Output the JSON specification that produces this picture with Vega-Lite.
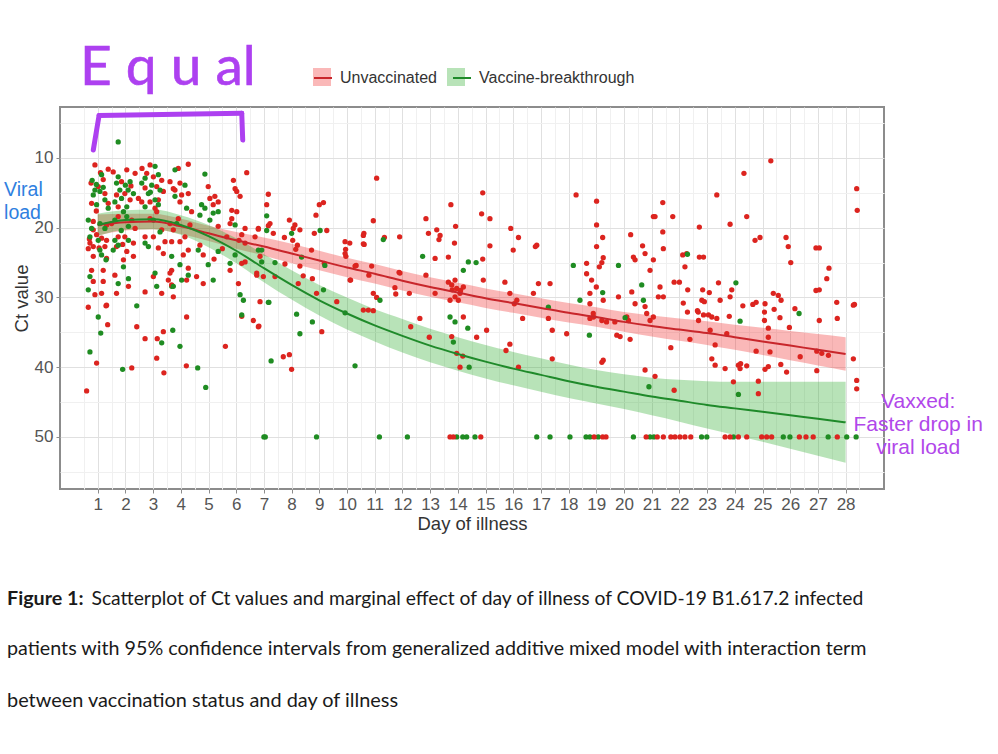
{
  "$schema": "https://vega.github.io/schema/vega-lite/v6.json",
  "width": 824,
  "height": 382,
  "autosize": {"type": "none"},
  "padding": {"left": 60, "top": 107, "right": 114, "bottom": 265},
  "background": "white",
  "config": {
    "view": {"stroke": "#8c8c8c", "strokeWidth": 2},
    "font": "Liberation Sans"
  },
  "datasets": {
    "fit": [
      {"status":"Unvaccinated","day":1,"fit":19.6,"lo":18.1,"hi":21.1},
      {"status":"Unvaccinated","day":2,"fit":19.2,"lo":18.0,"hi":20.4},
      {"status":"Unvaccinated","day":3,"fit":19.1,"lo":18.0,"hi":20.2},
      {"status":"Unvaccinated","day":4,"fit":19.8,"lo":18.7,"hi":20.9},
      {"status":"Unvaccinated","day":5,"fit":20.8,"lo":19.7,"hi":21.9},
      {"status":"Unvaccinated","day":6,"fit":21.8,"lo":20.6,"hi":23.0},
      {"status":"Unvaccinated","day":7,"fit":22.7,"lo":21.4,"hi":24.0},
      {"status":"Unvaccinated","day":8,"fit":23.7,"lo":22.3,"hi":25.1},
      {"status":"Unvaccinated","day":9,"fit":24.7,"lo":23.3,"hi":26.1},
      {"status":"Unvaccinated","day":10,"fit":25.7,"lo":24.3,"hi":27.1},
      {"status":"Unvaccinated","day":11,"fit":26.6,"lo":25.2,"hi":28.0},
      {"status":"Unvaccinated","day":12,"fit":27.6,"lo":26.2,"hi":29.0},
      {"status":"Unvaccinated","day":13,"fit":28.5,"lo":27.1,"hi":29.9},
      {"status":"Unvaccinated","day":14,"fit":29.3,"lo":27.9,"hi":30.7},
      {"status":"Unvaccinated","day":15,"fit":30.1,"lo":28.7,"hi":31.5},
      {"status":"Unvaccinated","day":16,"fit":30.8,"lo":29.4,"hi":32.2},
      {"status":"Unvaccinated","day":17,"fit":31.5,"lo":30.1,"hi":32.9},
      {"status":"Unvaccinated","day":18,"fit":32.2,"lo":30.8,"hi":33.6},
      {"status":"Unvaccinated","day":19,"fit":32.8,"lo":31.4,"hi":34.2},
      {"status":"Unvaccinated","day":20,"fit":33.5,"lo":32.1,"hi":34.9},
      {"status":"Unvaccinated","day":21,"fit":34.1,"lo":32.6,"hi":35.6},
      {"status":"Unvaccinated","day":22,"fit":34.6,"lo":33.0,"hi":36.2},
      {"status":"Unvaccinated","day":23,"fit":35.1,"lo":33.4,"hi":36.8},
      {"status":"Unvaccinated","day":24,"fit":35.7,"lo":33.9,"hi":37.5},
      {"status":"Unvaccinated","day":25,"fit":36.3,"lo":34.35,"hi":38.25},
      {"status":"Unvaccinated","day":26,"fit":36.9,"lo":34.8,"hi":39.0},
      {"status":"Unvaccinated","day":27,"fit":37.5,"lo":35.25,"hi":39.75},
      {"status":"Unvaccinated","day":28,"fit":38.1,"lo":35.7,"hi":40.5},
      {"status":"Vaccine-breakthrough","day":1,"fit":19.6,"lo":18.0,"hi":21.2},
      {"status":"Vaccine-breakthrough","day":2,"fit":18.9,"lo":17.5,"hi":20.3},
      {"status":"Vaccine-breakthrough","day":3,"fit":18.8,"lo":17.4,"hi":20.2},
      {"status":"Vaccine-breakthrough","day":4,"fit":19.6,"lo":18.2,"hi":21.0},
      {"status":"Vaccine-breakthrough","day":5,"fit":21.2,"lo":19.6,"hi":22.8},
      {"status":"Vaccine-breakthrough","day":6,"fit":23.3,"lo":21.5,"hi":25.1},
      {"status":"Vaccine-breakthrough","day":7,"fit":25.8,"lo":23.8,"hi":27.8},
      {"status":"Vaccine-breakthrough","day":8,"fit":28.2,"lo":26.1,"hi":30.3},
      {"status":"Vaccine-breakthrough","day":9,"fit":30.4,"lo":28.2,"hi":32.6},
      {"status":"Vaccine-breakthrough","day":10,"fit":32.3,"lo":30.0,"hi":34.6},
      {"status":"Vaccine-breakthrough","day":11,"fit":34.0,"lo":31.7,"hi":36.3},
      {"status":"Vaccine-breakthrough","day":12,"fit":35.5,"lo":33.1,"hi":37.9},
      {"status":"Vaccine-breakthrough","day":13,"fit":36.9,"lo":34.5,"hi":39.3},
      {"status":"Vaccine-breakthrough","day":14,"fit":38.1,"lo":35.7,"hi":40.5},
      {"status":"Vaccine-breakthrough","day":15,"fit":39.2,"lo":36.8,"hi":41.6},
      {"status":"Vaccine-breakthrough","day":16,"fit":40.2,"lo":37.8,"hi":42.6},
      {"status":"Vaccine-breakthrough","day":17,"fit":41.1,"lo":38.7,"hi":43.5},
      {"status":"Vaccine-breakthrough","day":18,"fit":42.0,"lo":39.6,"hi":44.4},
      {"status":"Vaccine-breakthrough","day":19,"fit":42.8,"lo":40.4,"hi":45.2},
      {"status":"Vaccine-breakthrough","day":20,"fit":43.5,"lo":41.0,"hi":46.0},
      {"status":"Vaccine-breakthrough","day":21,"fit":44.2,"lo":41.5,"hi":46.9},
      {"status":"Vaccine-breakthrough","day":22,"fit":44.8,"lo":41.8,"hi":47.8},
      {"status":"Vaccine-breakthrough","day":23,"fit":45.4,"lo":42.0,"hi":48.8},
      {"status":"Vaccine-breakthrough","day":24,"fit":45.9,"lo":42.1,"hi":49.7},
      {"status":"Vaccine-breakthrough","day":25,"fit":46.4,"lo":42.1,"hi":50.7},
      {"status":"Vaccine-breakthrough","day":26,"fit":46.9,"lo":42.1,"hi":51.7},
      {"status":"Vaccine-breakthrough","day":27,"fit":47.4,"lo":42.1,"hi":52.7},
      {"status":"Vaccine-breakthrough","day":28,"fit":47.9,"lo":42.1,"hi":53.7}
    ],
    "pts": [
      {"day":0.90,"ct":11.0,"status":"U"},{"day":1.38,"ct":11.6,"status":"U"},{"day":0.76,"ct":13.6,"status":"U"},{"day":1.20,"ct":13.1,"status":"U"},{"day":1.02,"ct":14.1,"status":"U"},{"day":1.26,"ct":15.1,"status":"U"},{"day":0.78,"ct":16.5,"status":"U"},{"day":1.38,"ct":16.5,"status":"U"},{"day":0.84,"ct":19.1,"status":"U"},{"day":1.32,"ct":19.6,"status":"U"},{"day":0.84,"ct":20.3,"status":"U"},{"day":0.96,"ct":21.0,"status":"U"},{"day":1.14,"ct":21.5,"status":"U"},{"day":0.72,"ct":22.2,"status":"U"},{"day":0.84,"ct":22.7,"status":"U"},{"day":1.32,"ct":21.8,"status":"U"},{"day":1.26,"ct":22.7,"status":"U"},{"day":0.84,"ct":24.1,"status":"U"},{"day":1.32,"ct":24.4,"status":"U"},{"day":1.20,"ct":26.1,"status":"U"},{"day":0.78,"ct":26.1,"status":"U"},{"day":0.84,"ct":27.7,"status":"U"},{"day":1.20,"ct":27.7,"status":"U"},{"day":0.90,"ct":29.6,"status":"U"},{"day":1.14,"ct":29.4,"status":"U"},{"day":1.32,"ct":31.1,"status":"U"},{"day":0.66,"ct":31.4,"status":"U"},{"day":1.30,"ct":31.2,"status":"U"},{"day":1.36,"ct":33.9,"status":"U"},{"day":0.96,"ct":39.4,"status":"U"},{"day":0.60,"ct":43.4,"status":"U"},{"day":0.70,"ct":21.6,"status":"U"},{"day":1.05,"ct":22.9,"status":"U"},{"day":0.66,"ct":23.0,"status":"U"},{"day":1.10,"ct":12.1,"status":"U"},{"day":0.95,"ct":17.6,"status":"U"},
      {"day":1.74,"ct":7.7,"status":"V"},{"day":1.14,"ct":12.4,"status":"V"},{"day":0.90,"ct":14.6,"status":"V"},{"day":1.08,"ct":14.8,"status":"V"},{"day":0.84,"ct":15.3,"status":"V"},{"day":1.26,"ct":16.0,"status":"V"},{"day":0.96,"ct":16.7,"status":"V"},{"day":1.38,"ct":17.2,"status":"V"},{"day":0.66,"ct":18.9,"status":"V"},{"day":1.08,"ct":19.4,"status":"V"},{"day":0.78,"ct":20.1,"status":"V"},{"day":1.26,"ct":20.1,"status":"V"},{"day":0.72,"ct":21.3,"status":"V"},{"day":1.02,"ct":21.8,"status":"V"},{"day":1.08,"ct":23.2,"status":"V"},{"day":1.14,"ct":23.9,"status":"V"},{"day":0.72,"ct":27.0,"status":"V"},{"day":0.66,"ct":28.9,"status":"V"},{"day":1.02,"ct":32.8,"status":"V"},{"day":1.11,"ct":35.1,"status":"V"},{"day":0.72,"ct":37.8,"status":"V"},{"day":0.95,"ct":13.8,"status":"V"},{"day":1.20,"ct":14.2,"status":"V"},{"day":0.80,"ct":13.2,"status":"V"},{"day":1.30,"ct":24.6,"status":"V"},
      {"day":1.56,"ct":12.0,"status":"U"},{"day":2.05,"ct":11.7,"status":"U"},{"day":2.35,"ct":12.2,"status":"U"},{"day":1.86,"ct":13.4,"status":"U"},{"day":1.98,"ct":15.1,"status":"U"},{"day":1.68,"ct":15.3,"status":"U"},{"day":2.17,"ct":16.0,"status":"U"},{"day":2.47,"ct":15.8,"status":"U"},{"day":1.74,"ct":17.0,"status":"U"},{"day":1.74,"ct":18.4,"status":"U"},{"day":2.23,"ct":18.9,"status":"U"},{"day":1.50,"ct":19.4,"status":"U"},{"day":2.35,"ct":20.1,"status":"U"},{"day":1.74,"ct":21.3,"status":"U"},{"day":1.98,"ct":21.3,"status":"U"},{"day":1.68,"ct":22.7,"status":"U"},{"day":2.29,"ct":22.2,"status":"U"},{"day":2.05,"ct":23.4,"status":"U"},{"day":1.93,"ct":24.6,"status":"U"},{"day":2.29,"ct":24.1,"status":"U"},{"day":1.62,"ct":26.8,"status":"U"},{"day":2.11,"ct":28.4,"status":"U"},{"day":1.68,"ct":29.4,"status":"U"},{"day":2.41,"ct":34.2,"status":"U"},{"day":2.23,"ct":40.1,"status":"U"},{"day":2.71,"ct":35.9,"status":"U"},{"day":2.20,"ct":14.0,"status":"U"},{"day":1.90,"ct":22.4,"status":"U"},
      {"day":1.74,"ct":12.7,"status":"V"},{"day":1.68,"ct":13.6,"status":"V"},{"day":2.17,"ct":13.4,"status":"V"},{"day":1.80,"ct":14.6,"status":"V"},{"day":2.10,"ct":14.6,"status":"V"},{"day":2.29,"ct":15.1,"status":"V"},{"day":1.86,"ct":15.8,"status":"V"},{"day":1.62,"ct":16.3,"status":"V"},{"day":2.05,"ct":17.0,"status":"V"},{"day":1.93,"ct":17.7,"status":"V"},{"day":2.05,"ct":18.4,"status":"V"},{"day":1.62,"ct":18.9,"status":"V"},{"day":2.11,"ct":19.8,"status":"V"},{"day":1.62,"ct":21.8,"status":"V"},{"day":2.11,"ct":21.8,"status":"V"},{"day":1.74,"ct":22.5,"status":"V"},{"day":1.56,"ct":23.2,"status":"V"},{"day":1.93,"ct":25.6,"status":"V"},{"day":1.74,"ct":28.0,"status":"V"},{"day":2.11,"ct":27.3,"status":"V"},{"day":2.41,"ct":31.2,"status":"V"},{"day":1.90,"ct":40.3,"status":"V"},{"day":2.00,"ct":13.9,"status":"V"},{"day":1.85,"ct":20.4,"status":"V"},
      {"day":2.89,"ct":11.0,"status":"U"},{"day":2.77,"ct":12.2,"status":"U"},{"day":3.01,"ct":12.7,"status":"U"},{"day":3.31,"ct":13.2,"status":"U"},{"day":2.71,"ct":14.3,"status":"U"},{"day":3.13,"ct":14.1,"status":"U"},{"day":3.37,"ct":14.8,"status":"U"},{"day":2.59,"ct":16.3,"status":"U"},{"day":2.89,"ct":16.3,"status":"U"},{"day":3.19,"ct":16.0,"status":"U"},{"day":3.07,"ct":17.2,"status":"U"},{"day":3.13,"ct":17.7,"status":"U"},{"day":3.73,"ct":14.4,"status":"U"},{"day":3.61,"ct":19.4,"status":"U"},{"day":2.89,"ct":18.7,"status":"U"},{"day":3.31,"ct":20.3,"status":"U"},{"day":3.01,"ct":21.3,"status":"U"},{"day":2.71,"ct":21.3,"status":"U"},{"day":3.19,"ct":22.9,"status":"U"},{"day":3.37,"ct":23.7,"status":"U"},{"day":3.43,"ct":22.0,"status":"U"},{"day":3.67,"ct":26.1,"status":"U"},{"day":2.71,"ct":29.2,"status":"U"},{"day":3.31,"ct":29.4,"status":"U"},{"day":3.01,"ct":27.0,"status":"U"},{"day":3.55,"ct":27.5,"status":"U"},{"day":3.73,"ct":29.9,"status":"U"},{"day":3.15,"ct":35.9,"status":"U"},{"day":3.37,"ct":34.9,"status":"U"},{"day":3.13,"ct":38.7,"status":"U"},{"day":3.39,"ct":40.8,"status":"U"},{"day":2.60,"ct":11.5,"status":"U"},
      {"day":3.07,"ct":11.2,"status":"V"},{"day":2.71,"ct":12.9,"status":"V"},{"day":3.19,"ct":12.4,"status":"V"},{"day":2.59,"ct":13.6,"status":"V"},{"day":2.95,"ct":13.9,"status":"V"},{"day":3.25,"ct":14.6,"status":"V"},{"day":2.83,"ct":15.1,"status":"V"},{"day":3.07,"ct":16.0,"status":"V"},{"day":2.71,"ct":17.0,"status":"V"},{"day":3.19,"ct":16.7,"status":"V"},{"day":3.01,"ct":18.9,"status":"V"},{"day":3.25,"ct":20.6,"status":"V"},{"day":2.71,"ct":22.2,"status":"V"},{"day":2.83,"ct":22.7,"status":"V"},{"day":3.07,"ct":26.5,"status":"V"},{"day":3.13,"ct":28.4,"status":"V"},{"day":3.67,"ct":28.4,"status":"V"},{"day":3.31,"ct":36.5,"status":"V"},{"day":3.71,"ct":34.7,"status":"V"},{"day":2.90,"ct":14.9,"status":"V"},
      {"day":4.27,"ct":10.9,"status":"U"},{"day":3.91,"ct":11.5,"status":"U"},{"day":3.61,"ct":13.4,"status":"U"},{"day":3.97,"ct":13.6,"status":"U"},{"day":3.79,"ct":14.6,"status":"U"},{"day":4.03,"ct":15.3,"status":"U"},{"day":4.27,"ct":15.1,"status":"U"},{"day":3.97,"ct":16.3,"status":"U"},{"day":4.39,"ct":17.7,"status":"U"},{"day":3.91,"ct":18.7,"status":"U"},{"day":3.73,"ct":20.3,"status":"U"},{"day":4.33,"ct":19.6,"status":"U"},{"day":4.15,"ct":21.3,"status":"U"},{"day":3.97,"ct":22.0,"status":"U"},{"day":3.67,"ct":22.0,"status":"U"},{"day":4.69,"ct":22.5,"status":"U"},{"day":4.09,"ct":23.9,"status":"U"},{"day":4.27,"ct":23.2,"status":"U"},{"day":4.81,"ct":23.9,"status":"U"},{"day":4.27,"ct":25.8,"status":"U"},{"day":3.61,"ct":26.5,"status":"U"},{"day":4.57,"ct":27.0,"status":"U"},{"day":4.21,"ct":27.5,"status":"U"},{"day":4.81,"ct":28.0,"status":"U"},{"day":3.67,"ct":28.2,"status":"U"},{"day":4.21,"ct":32.8,"status":"U"},{"day":4.20,"ct":39.8,"status":"U"},
      {"day":3.79,"ct":11.7,"status":"V"},{"day":4.87,"ct":12.3,"status":"V"},{"day":4.15,"ct":13.9,"status":"V"},{"day":3.79,"ct":15.5,"status":"V"},{"day":4.75,"ct":16.7,"status":"V"},{"day":4.87,"ct":17.2,"status":"V"},{"day":4.21,"ct":17.2,"status":"V"},{"day":4.69,"ct":18.2,"status":"V"},{"day":3.85,"ct":19.4,"status":"V"},{"day":4.63,"ct":23.2,"status":"V"},{"day":3.67,"ct":24.1,"status":"V"},{"day":3.97,"ct":25.3,"status":"V"},{"day":4.27,"ct":26.8,"status":"V"},{"day":4.03,"ct":27.5,"status":"V"},{"day":3.73,"ct":28.4,"status":"V"},{"day":3.97,"ct":37.0,"status":"V"},{"day":4.61,"ct":40.1,"status":"V"},{"day":4.90,"ct":42.9,"status":"V"},
      {"day":4.99,"ct":14.1,"status":"U"},{"day":5.05,"ct":15.8,"status":"U"},{"day":5.23,"ct":15.5,"status":"U"},{"day":5.35,"ct":16.3,"status":"U"},{"day":5.17,"ct":16.7,"status":"U"},{"day":5.35,"ct":19.8,"status":"U"},{"day":5.66,"ct":21.3,"status":"U"},{"day":5.78,"ct":26.1,"status":"U"},{"day":5.61,"ct":37.0,"status":"U"},{"day":5.20,"ct":24.5,"status":"U"},{"day":5.50,"ct":23.0,"status":"U"},
      {"day":5.35,"ct":17.7,"status":"V"},{"day":5.17,"ct":17.9,"status":"V"},{"day":5.05,"ct":18.9,"status":"V"},{"day":5.35,"ct":23.4,"status":"V"},{"day":4.99,"ct":25.3,"status":"V"},{"day":5.17,"ct":27.5,"status":"V"},
      {"day":6.38,"ct":12.1,"status":"U"},{"day":5.90,"ct":13.2,"status":"U"},{"day":5.96,"ct":14.4,"status":"U"},{"day":6.02,"ct":14.8,"status":"U"},{"day":6.14,"ct":15.5,"status":"U"},{"day":5.84,"ct":17.5,"status":"U"},{"day":6.02,"ct":17.7,"status":"U"},{"day":5.84,"ct":18.7,"status":"U"},{"day":5.78,"ct":19.4,"status":"U"},{"day":6.32,"ct":20.1,"status":"U"},{"day":6.80,"ct":20.1,"status":"U"},{"day":6.20,"ct":21.0,"status":"U"},{"day":6.68,"ct":21.3,"status":"U"},{"day":6.32,"ct":22.2,"status":"U"},{"day":6.32,"ct":24.9,"status":"U"},{"day":6.20,"ct":25.1,"status":"U"},{"day":6.74,"ct":26.5,"status":"U"},{"day":6.98,"ct":27.0,"status":"U"},{"day":6.08,"ct":28.0,"status":"U"},{"day":6.86,"ct":30.6,"status":"U"},{"day":6.20,"ct":32.7,"status":"U"},{"day":6.62,"ct":33.3,"status":"U"},{"day":6.82,"ct":34.1,"status":"U"},{"day":6.10,"ct":21.8,"status":"U"},
      {"day":5.96,"ct":19.6,"status":"V"},{"day":6.92,"ct":23.2,"status":"V"},{"day":5.96,"ct":23.9,"status":"V"},{"day":5.78,"ct":25.1,"status":"V"},{"day":6.14,"ct":29.6,"status":"V"},{"day":6.26,"ct":30.4,"status":"V"},{"day":6.20,"ct":32.5,"status":"V"},{"day":7.18,"ct":30.7,"status":"V"},
      {"day":7.16,"ct":15.2,"status":"U"},{"day":7.10,"ct":16.7,"status":"U"},{"day":7.22,"ct":19.4,"status":"U"},{"day":7.16,"ct":19.7,"status":"U"},{"day":7.34,"ct":20.8,"status":"U"},{"day":6.80,"ct":20.2,"status":"U"},{"day":6.86,"ct":24.1,"status":"U"},{"day":6.74,"ct":26.8,"status":"U"},{"day":7.40,"ct":27.0,"status":"U"},{"day":7.76,"ct":25.2,"status":"U"},{"day":6.80,"ct":34.2,"status":"U"},{"day":7.92,"ct":18.9,"status":"U"},{"day":8.12,"ct":19.6,"status":"U"},{"day":8.06,"ct":20.1,"status":"U"},{"day":8.30,"ct":20.3,"status":"U"},{"day":7.74,"ct":21.4,"status":"U"},{"day":8.04,"ct":21.8,"status":"U"},{"day":8.21,"ct":22.5,"status":"U"},{"day":8.15,"ct":23.1,"status":"U"},{"day":8.72,"ct":23.2,"status":"U"},{"day":8.30,"ct":25.5,"status":"U"},{"day":8.42,"ct":26.9,"status":"U"},{"day":8.24,"ct":28.0,"status":"U"},{"day":8.75,"ct":27.3,"status":"U"},{"day":8.90,"ct":29.4,"status":"U"},{"day":9.09,"ct":34.9,"status":"U"},{"day":7.70,"ct":38.5,"status":"U"},{"day":7.92,"ct":38.2,"status":"U"},{"day":8.00,"ct":40.3,"status":"U"},{"day":8.88,"ct":18.2,"status":"U"},{"day":9.00,"ct":16.7,"status":"U"},{"day":9.15,"ct":16.4,"status":"U"},{"day":9.27,"ct":20.4,"status":"U"},{"day":8.82,"ct":20.8,"status":"U"},{"day":9.18,"ct":25.1,"status":"U"},{"day":9.63,"ct":30.6,"status":"U"},
      {"day":7.10,"ct":18.3,"status":"V"},{"day":7.10,"ct":20.4,"status":"V"},{"day":6.80,"ct":23.2,"status":"V"},{"day":6.92,"ct":24.9,"status":"V"},{"day":7.40,"ct":25.0,"status":"V"},{"day":7.16,"ct":30.7,"status":"V"},{"day":8.00,"ct":20.8,"status":"V"},{"day":8.36,"ct":24.2,"status":"V"},{"day":9.15,"ct":28.9,"status":"V"},{"day":8.18,"ct":32.4,"status":"V"},{"day":8.75,"ct":33.5,"status":"V"},{"day":8.30,"ct":35.2,"status":"V"},{"day":7.26,"ct":39.1,"status":"V"},{"day":9.03,"ct":20.4,"status":"V"},{"day":9.20,"ct":25.4,"status":"V"},
      {"day":9.93,"ct":22.0,"status":"U"},{"day":10.10,"ct":22.2,"status":"U"},{"day":9.95,"ct":23.1,"status":"U"},{"day":9.96,"ct":24.1,"status":"U"},{"day":10.29,"ct":25.5,"status":"U"},{"day":10.13,"ct":27.5,"status":"U"},{"day":10.61,"ct":20.8,"status":"U"},{"day":10.62,"ct":22.4,"status":"U"},{"day":10.95,"ct":19.0,"status":"U"},{"day":11.35,"ct":21.4,"status":"U"},{"day":10.89,"ct":25.5,"status":"U"},{"day":10.79,"ct":26.8,"status":"U"},{"day":10.95,"ct":29.4,"status":"U"},{"day":11.07,"ct":30.0,"status":"U"},{"day":10.77,"ct":31.8,"status":"U"},{"day":10.95,"ct":31.9,"status":"U"},{"day":11.76,"ct":29.5,"status":"U"},{"day":11.88,"ct":26.4,"status":"U"},{"day":11.90,"ct":21.3,"status":"U"},{"day":11.07,"ct":12.9,"status":"U"},{"day":10.59,"ct":22.3,"status":"U"},{"day":10.59,"ct":21.1,"status":"U"},{"day":9.93,"ct":23.7,"status":"U"},{"day":10.33,"ct":25.4,"status":"U"},{"day":10.11,"ct":27.5,"status":"U"},{"day":10.59,"ct":31.8,"status":"U"},{"day":11.91,"ct":26.5,"status":"U"},{"day":12.25,"ct":29.4,"status":"U"},{"day":12.30,"ct":34.2,"status":"U"},{"day":11.73,"ct":28.6,"status":"U"},
      {"day":9.93,"ct":32.2,"status":"V"},{"day":10.29,"ct":39.8,"status":"V"},{"day":11.31,"ct":21.7,"status":"V"},{"day":11.19,"ct":30.4,"status":"V"},
      {"day":12.85,"ct":18.7,"status":"U"},{"day":13.75,"ct":16.7,"status":"U"},{"day":13.92,"ct":19.8,"status":"U"},{"day":14.90,"ct":15.0,"status":"U"},{"day":14.86,"ct":18.0,"status":"U"},{"day":15.16,"ct":18.7,"status":"U"},{"day":12.94,"ct":20.8,"status":"U"},{"day":13.24,"ct":20.3,"status":"U"},{"day":13.32,"ct":21.7,"status":"U"},{"day":13.36,"ct":21.1,"status":"U"},{"day":13.88,"ct":22.2,"status":"U"},{"day":13.66,"ct":24.2,"status":"U"},{"day":13.18,"ct":24.4,"status":"U"},{"day":12.85,"ct":26.8,"status":"U"},{"day":13.90,"ct":27.5,"status":"U"},{"day":13.66,"ct":27.8,"status":"U"},{"day":13.78,"ct":28.2,"status":"U"},{"day":13.96,"ct":28.7,"status":"U"},{"day":14.08,"ct":29.4,"status":"U"},{"day":14.20,"ct":28.5,"status":"U"},{"day":13.90,"ct":29.9,"status":"U"},{"day":13.72,"ct":30.4,"status":"U"},{"day":14.02,"ct":30.4,"status":"U"},{"day":14.20,"ct":32.8,"status":"U"},{"day":13.78,"ct":35.6,"status":"U"},{"day":13.96,"ct":38.0,"status":"U"},{"day":14.18,"ct":38.4,"status":"U"},{"day":14.08,"ct":40.0,"status":"U"},{"day":12.63,"ct":33.0,"status":"U"},{"day":12.97,"ct":35.7,"status":"U"},{"day":13.18,"ct":29.4,"status":"U"},{"day":14.90,"ct":24.5,"status":"U"},{"day":15.16,"ct":22.6,"status":"U"},{"day":14.92,"ct":27.5,"status":"U"},{"day":15.04,"ct":34.7,"status":"U"},{"day":14.68,"ct":35.7,"status":"U"},{"day":13.80,"ct":28.9,"status":"U"},{"day":14.10,"ct":29.0,"status":"U"},
      {"day":12.73,"ct":24.1,"status":"V"},{"day":14.66,"ct":25.0,"status":"V"},{"day":14.38,"ct":24.9,"status":"V"},{"day":14.20,"ct":26.1,"status":"V"},{"day":13.72,"ct":32.8,"status":"V"},{"day":13.90,"ct":33.5,"status":"V"},{"day":13.84,"ct":36.4,"status":"V"},{"day":14.36,"ct":34.4,"status":"V"},{"day":14.41,"ct":40.0,"status":"V"},
      {"day":15.91,"ct":20.1,"status":"U"},{"day":16.19,"ct":21.4,"status":"U"},{"day":16.00,"ct":23.2,"status":"U"},{"day":16.85,"ct":22.5,"status":"U"},{"day":16.80,"ct":22.7,"status":"U"},{"day":15.70,"ct":27.8,"status":"U"},{"day":15.88,"ct":29.4,"status":"U"},{"day":16.04,"ct":30.9,"status":"U"},{"day":16.13,"ct":30.4,"status":"U"},{"day":16.73,"ct":29.4,"status":"U"},{"day":16.91,"ct":28.0,"status":"U"},{"day":16.34,"ct":33.0,"status":"U"},{"day":15.88,"ct":36.7,"status":"U"},{"day":15.74,"ct":37.6,"status":"U"},{"day":16.19,"ct":40.0,"status":"U"},{"day":17.33,"ct":28.0,"status":"U"},{"day":17.27,"ct":33.0,"status":"U"},{"day":17.41,"ct":34.7,"status":"U"},{"day":17.41,"ct":38.8,"status":"U"},{"day":17.93,"ct":35.2,"status":"U"},{"day":18.27,"ct":15.3,"status":"U"},
      {"day":17.27,"ct":31.4,"status":"V"},{"day":18.17,"ct":25.4,"status":"V"},{"day":18.41,"ct":30.4,"status":"V"},{"day":18.75,"ct":35.4,"status":"V"},
      {"day":19.01,"ct":16.2,"status":"U"},{"day":19.01,"ct":19.6,"status":"U"},{"day":19.23,"ct":21.4,"status":"U"},{"day":19.01,"ct":22.7,"status":"U"},{"day":19.25,"ct":24.3,"status":"U"},{"day":19.20,"ct":25.0,"status":"U"},{"day":19.11,"ct":25.6,"status":"U"},{"day":18.65,"ct":25.1,"status":"U"},{"day":18.65,"ct":26.6,"status":"U"},{"day":18.83,"ct":27.5,"status":"U"},{"day":18.77,"ct":29.4,"status":"U"},{"day":19.25,"ct":30.4,"status":"U"},{"day":18.77,"ct":30.9,"status":"U"},{"day":18.89,"ct":32.3,"status":"U"},{"day":18.77,"ct":33.0,"status":"U"},{"day":19.20,"ct":33.3,"status":"U"},{"day":19.37,"ct":33.5,"status":"U"},{"day":19.25,"ct":39.0,"status":"U"},{"day":19.20,"ct":39.3,"status":"U"},{"day":18.90,"ct":32.8,"status":"U"},{"day":19.00,"ct":28.5,"status":"U"},
      {"day":19.23,"ct":29.3,"status":"V"},
      {"day":20.24,"ct":21.0,"status":"U"},{"day":20.67,"ct":22.6,"status":"U"},{"day":20.34,"ct":24.2,"status":"U"},{"day":20.40,"ct":24.6,"status":"U"},{"day":21.06,"ct":24.6,"status":"U"},{"day":21.06,"ct":18.4,"status":"U"},{"day":20.76,"ct":23.7,"status":"U"},{"day":20.94,"ct":26.1,"status":"U"},{"day":19.80,"ct":29.9,"status":"U"},{"day":20.28,"ct":29.2,"status":"U"},{"day":20.40,"ct":30.9,"status":"U"},{"day":20.76,"ct":31.3,"status":"U"},{"day":20.82,"ct":32.3,"status":"U"},{"day":20.94,"ct":33.3,"status":"U"},{"day":21.06,"ct":32.8,"status":"U"},{"day":20.10,"ct":32.8,"status":"U"},{"day":20.16,"ct":33.3,"status":"U"},{"day":19.67,"ct":33.5,"status":"U"},{"day":19.74,"ct":35.4,"status":"U"},{"day":19.86,"ct":35.6,"status":"U"},{"day":20.22,"ct":36.0,"status":"U"},{"day":20.76,"ct":40.4,"status":"U"},{"day":21.12,"ct":41.3,"status":"U"},
      {"day":19.80,"ct":25.4,"status":"V"},{"day":20.64,"ct":28.2,"status":"V"},{"day":20.70,"ct":30.4,"status":"V"},{"day":20.04,"ct":32.9,"status":"V"},{"day":20.90,"ct":42.8,"status":"V"},
      {"day":25.30,"ct":10.4,"status":"U"},{"day":24.33,"ct":12.2,"status":"U"},{"day":28.40,"ct":14.4,"status":"U"},{"day":28.42,"ct":17.5,"status":"U"},{"day":23.35,"ct":15.3,"status":"U"},{"day":24.43,"ct":18.4,"status":"U"},{"day":21.40,"ct":16.4,"status":"U"},{"day":21.12,"ct":18.4,"status":"U"},{"day":21.76,"ct":18.4,"status":"U"},{"day":21.40,"ct":20.6,"status":"U"},{"day":22.72,"ct":19.9,"status":"U"},{"day":23.83,"ct":19.5,"status":"U"},{"day":24.73,"ct":21.8,"status":"U"},{"day":24.91,"ct":21.4,"status":"U"},{"day":25.85,"ct":21.4,"status":"U"},{"day":25.93,"ct":22.7,"status":"U"},{"day":26.02,"ct":25.0,"status":"U"},{"day":26.93,"ct":22.9,"status":"U"},{"day":27.05,"ct":22.9,"status":"U"},{"day":27.40,"ct":25.8,"status":"U"},{"day":27.32,"ct":27.3,"status":"U"},{"day":26.93,"ct":29.0,"status":"U"},{"day":27.05,"ct":28.9,"status":"U"},{"day":27.68,"ct":30.7,"status":"U"},{"day":28.28,"ct":31.1,"status":"U"},{"day":28.32,"ct":31.0,"status":"U"},{"day":27.05,"ct":33.3,"status":"U"},{"day":27.70,"ct":33.0,"status":"U"},{"day":27.14,"ct":38.0,"status":"U"},{"day":27.38,"ct":38.3,"status":"U"},{"day":26.96,"ct":40.5,"status":"U"},{"day":28.28,"ct":38.8,"status":"U"},{"day":28.40,"ct":41.9,"status":"U"},{"day":28.40,"ct":43.1,"status":"U"},
      {"day":21.42,"ct":23.0,"status":"U"},{"day":22.12,"ct":23.9,"status":"U"},{"day":22.20,"ct":25.6,"status":"U"},{"day":22.26,"ct":23.7,"status":"U"},{"day":21.81,"ct":27.8,"status":"U"},{"day":22.00,"ct":27.8,"status":"U"},{"day":22.30,"ct":28.9,"status":"U"},{"day":21.30,"ct":28.5,"status":"U"},{"day":21.24,"ct":29.9,"status":"U"},{"day":21.42,"ct":29.9,"status":"U"},{"day":22.14,"ct":30.8,"status":"U"},{"day":22.29,"ct":32.1,"status":"U"},{"day":22.68,"ct":32.1,"status":"U"},{"day":22.72,"ct":24.2,"status":"U"},{"day":22.87,"ct":24.2,"status":"U"},{"day":22.84,"ct":28.9,"status":"U"},{"day":22.81,"ct":30.4,"status":"U"},{"day":22.90,"ct":30.6,"status":"U"},{"day":23.41,"ct":27.9,"status":"U"},{"day":23.47,"ct":30.4,"status":"U"},{"day":23.08,"ct":29.3,"status":"U"},{"day":22.65,"ct":31.9,"status":"U"},{"day":22.69,"ct":33.3,"status":"U"},{"day":22.87,"ct":32.5,"status":"U"},{"day":23.05,"ct":32.5,"status":"U"},{"day":23.17,"ct":32.8,"status":"U"},{"day":23.35,"ct":33.0,"status":"U"},{"day":23.80,"ct":32.7,"status":"U"},{"day":23.89,"ct":28.9,"status":"U"},{"day":23.83,"ct":29.9,"status":"U"},{"day":24.29,"ct":31.2,"status":"U"},{"day":24.65,"ct":31.0,"status":"U"},{"day":24.77,"ct":30.7,"status":"U"},{"day":25.09,"ct":30.9,"status":"U"},{"day":25.07,"ct":32.1,"status":"U"},{"day":25.07,"ct":33.3,"status":"U"},{"day":25.39,"ct":29.4,"status":"U"},{"day":25.57,"ct":29.7,"status":"U"},{"day":25.67,"ct":30.4,"status":"U"},{"day":25.42,"ct":31.7,"status":"U"},{"day":26.17,"ct":31.6,"status":"U"},{"day":25.63,"ct":32.9,"status":"U"},{"day":25.97,"ct":34.3,"status":"U"},{"day":25.21,"ct":34.4,"status":"U"},{"day":25.21,"ct":35.7,"status":"U"},{"day":23.11,"ct":34.7,"status":"U"},{"day":23.29,"ct":36.8,"status":"U"},{"day":23.71,"ct":35.2,"status":"U"},{"day":23.17,"ct":38.8,"status":"U"},{"day":23.29,"ct":39.7,"status":"U"},{"day":23.65,"ct":40.2,"status":"U"},{"day":23.95,"ct":42.1,"status":"U"},{"day":24.13,"ct":39.7,"status":"U"},{"day":24.21,"ct":39.5,"status":"U"},{"day":24.43,"ct":39.8,"status":"U"},{"day":24.19,"ct":40.2,"status":"U"},{"day":24.85,"ct":43.8,"status":"U"},{"day":24.85,"ct":42.0,"status":"U"},{"day":25.09,"ct":40.3,"status":"U"},{"day":25.21,"ct":39.9,"status":"U"},{"day":24.77,"ct":37.7,"status":"U"},{"day":25.27,"ct":37.8,"status":"U"},{"day":25.66,"ct":39.6,"status":"U"},{"day":25.87,"ct":40.7,"status":"U"},{"day":26.36,"ct":38.5,"status":"U"},{"day":26.96,"ct":37.7,"status":"U"},{"day":21.69,"ct":37.2,"status":"U"},{"day":21.81,"ct":43.3,"status":"U"},{"day":22.38,"ct":36.0,"status":"U"},
      {"day":22.29,"ct":23.8,"status":"V"},{"day":24.04,"ct":27.9,"status":"V"},{"day":24.19,"ct":33.4,"status":"V"},{"day":26.32,"ct":32.3,"status":"V"},{"day":24.13,"ct":43.9,"status":"V"},
      {"day":7.00,"ct":50,"status":"V"},{"day":7.05,"ct":50,"status":"V"},{"day":8.90,"ct":50,"status":"V"},{"day":11.17,"ct":50,"status":"V"},{"day":12.18,"ct":50,"status":"V"},{"day":13.96,"ct":50,"status":"V"},{"day":14.18,"ct":50,"status":"V"},{"day":14.32,"ct":50,"status":"V"},{"day":14.62,"ct":50,"status":"V"},{"day":16.85,"ct":50,"status":"V"},{"day":17.33,"ct":50,"status":"V"},{"day":18.05,"ct":50,"status":"V"},{"day":18.63,"ct":50,"status":"V"},{"day":18.77,"ct":50,"status":"V"},{"day":19.07,"ct":50,"status":"V"},{"day":20.34,"ct":50,"status":"V"},{"day":20.94,"ct":50,"status":"V"},{"day":21.08,"ct":50,"status":"V"},{"day":22.80,"ct":50,"status":"V"},{"day":22.99,"ct":50,"status":"V"},{"day":23.95,"ct":50,"status":"V"},{"day":25.75,"ct":50,"status":"V"},{"day":25.99,"ct":50,"status":"V"},{"day":27.37,"ct":50,"status":"V"},{"day":28.04,"ct":50,"status":"V"},{"day":28.38,"ct":50,"status":"V"},
      {"day":13.72,"ct":50,"status":"U"},{"day":13.84,"ct":50,"status":"U"},{"day":14.83,"ct":50,"status":"U"},{"day":18.92,"ct":50,"status":"U"},{"day":19.23,"ct":50,"status":"U"},{"day":19.35,"ct":50,"status":"U"},{"day":20.80,"ct":50,"status":"U"},{"day":21.20,"ct":50,"status":"U"},{"day":21.42,"ct":50,"status":"U"},{"day":21.69,"ct":50,"status":"U"},{"day":21.84,"ct":50,"status":"U"},{"day":22.02,"ct":50,"status":"U"},{"day":22.20,"ct":50,"status":"U"},{"day":22.41,"ct":50,"status":"U"},{"day":23.65,"ct":50,"status":"U"},{"day":23.83,"ct":50,"status":"U"},{"day":24.13,"ct":50,"status":"U"},{"day":24.43,"ct":50,"status":"U"},{"day":24.97,"ct":50,"status":"U"},{"day":25.15,"ct":50,"status":"U"},{"day":25.33,"ct":50,"status":"U"},{"day":26.33,"ct":50,"status":"U"},{"day":26.57,"ct":50,"status":"U"},{"day":26.83,"ct":50,"status":"U"},{"day":27.70,"ct":50,"status":"U"}
    ]
  },
  "layer": [
    {
      "data": {"name": "fit"},
      "mark": {"type": "area", "interpolate": "monotone", "fillOpacity": 0.33},
      "encoding": {
        "x": {
          "field": "day", "type": "quantitative",
          "scale": {"domain": [-0.361, 29.386], "nice": false, "zero": false},
          "axis": {
            "orient": "bottom",
            "values": [1,2,3,4,5,6,7,8,9,10,11,12,13,14,15,16,17,18,19,20,21,22,23,24,25,26,27,28],
            "labelOverlap": false, "labelFlush": false,
            "grid": true, "gridColor": "#e0e0e0", "gridWidth": 1,
            "tickColor": "#8c8c8c", "tickSize": 4, "tickWidth": 1,
            "domain": false,
            "labelFont": "Liberation Sans", "labelFontSize": 17, "labelColor": "#555555", "labelPadding": 3,
            "title": "Day of illness", "titleFont": "Liberation Sans", "titleFontSize": 18.5, "titleFontWeight": "normal", "titleColor": "#333333", "titlePadding": 2
          }
        },
        "y": {
          "field": "lo", "type": "quantitative",
          "scale": {"domain": [2.69, 57.46], "reverse": true, "nice": false, "zero": false},
          "axis": {
            "orient": "left",
            "values": [10,20,30,40,50],
            "labelOverlap": false, "labelFlush": false,
            "grid": true, "gridColor": "#e0e0e0", "gridWidth": 1,
            "tickColor": "#8c8c8c", "tickSize": 4, "tickWidth": 1,
            "domain": false,
            "labelFont": "Liberation Sans", "labelFontSize": 17, "labelColor": "#555555", "labelPadding": 3,
            "title": "Ct value", "titleFont": "Liberation Sans", "titleFontSize": 18.5, "titleFontWeight": "normal", "titleColor": "#333333", "titlePadding": 3
          }
        },
        "y2": {"field": "hi"},
        "fill": {
          "field": "status", "type": "nominal",
          "scale": {"range": ["#f02828", "#28aa28"]},
          "legend": {
            "orient": "none", "legendX": 253, "legendY": -39, "direction": "horizontal", "title": null,
            "symbolType": "square", "symbolSize": 324, "symbolOpacity": 0.33, "symbolStrokeWidth": 0,
            "labelExpr": "''", "labelFontSize": 16, "labelOffset": 0, "columnPadding": 116, "padding": 0
          }
        }
      }
    },
    {
      "data": {"name": "pts"},
      "mark": {"type": "circle", "size": 28, "opacity": 1},
      "encoding": {
        "x": {
          "field": "day", "type": "quantitative",
          "axis": {
            "orient": "top",
            "values": [0.5,1.5,2.5,3.5,4.5,5.5,6.5,7.5,8.5,9.5,10.5,11.5,12.5,13.5,14.5,15.5,16.5,17.5,18.5,19.5,20.5,21.5,22.5,23.5,24.5,25.5,26.5,27.5,28.5],
            "grid": true, "gridColor": "#f0f0f0", "gridWidth": 1,
            "labels": false, "ticks": false, "domain": false, "title": null
          }
        },
        "y": {
          "field": "ct", "type": "quantitative",
          "axis": {
            "orient": "right",
            "values": [5,15,25,35,45,55],
            "grid": true, "gridColor": "#f0f0f0", "gridWidth": 1,
            "labels": false, "ticks": false, "domain": false, "title": null
          }
        },
        "color": {
          "field": "status", "type": "nominal",
          "scale": {"domain": ["U", "V"], "range": ["#dc241f", "#1f8c22"]},
          "legend": null
        }
      }
    },
    {
      "data": {"name": "fit"},
      "mark": {"type": "line", "interpolate": "monotone", "strokeWidth": 2},
      "encoding": {
        "x": {"field": "day", "type": "quantitative", "axis": null},
        "y": {"field": "fit", "type": "quantitative", "axis": null},
        "stroke": {
          "field": "status", "type": "nominal",
          "scale": {"domain": ["Unvaccinated", "Vaccine-breakthrough"], "range": ["#c8262b", "#1f8a2a"]},
          "legend": {
            "orient": "none", "legendX": 253, "legendY": -39, "direction": "horizontal", "title": null,
            "symbolType": "stroke", "symbolSize": 324, "symbolStrokeWidth": 2,
            "labelFont": "Liberation Sans", "labelFontSize": 16, "labelColor": "#333333",
            "labelOffset": 7, "columnPadding": 12, "padding": 0
          }
        }
      }
    },
    {
      "data": {"values": [{}]},
      "mark": {"type": "text", "text": "E q u al", "font": "Lato", "fontSize": 55, "color": "#ad40f0", "stroke": "#ad40f0", "strokeWidth": 0.6, "align": "left", "baseline": "alphabetic"},
      "encoding": {"x": {"datum": 0.36, "axis": null}, "y": {"datum": -0.47, "axis": null}}
    },
    {
      "data": {"values": [{}]},
      "mark": {"type": "rule", "color": "#ad40f0", "strokeWidth": 5, "strokeCap": "round"},
      "encoding": {"x": {"datum": 0.841, "axis": null}, "y": {"datum": 8.85, "axis": null}, "x2": {"datum": 1.05}, "y2": {"datum": 3.9}}
    },
    {
      "data": {"values": [{}]},
      "mark": {"type": "rule", "color": "#ad40f0", "strokeWidth": 5, "strokeCap": "round"},
      "encoding": {"x": {"datum": 1.05, "axis": null}, "y": {"datum": 3.9, "axis": null}, "x2": {"datum": 6.2}, "y2": {"datum": 3.59}}
    },
    {
      "data": {"values": [{}]},
      "mark": {"type": "rule", "color": "#ad40f0", "strokeWidth": 5, "strokeCap": "round"},
      "encoding": {"x": {"datum": 6.2, "axis": null}, "y": {"datum": 3.59, "axis": null}, "x2": {"datum": 6.235}, "y2": {"datum": 7.42}}
    },
    {
      "data": {"values": [{}]},
      "mark": {"type": "text", "text": "Viral\nload", "lineBreak": "\n", "lineHeight": 23, "font": "Liberation Sans", "fontSize": 19.5, "color": "#2f80e0", "align": "left", "baseline": "alphabetic"},
      "encoding": {"x": {"datum": -2.38, "axis": null}, "y": {"datum": 15.4, "axis": null}}
    },
    {
      "data": {"values": [{}]},
      "mark": {"type": "text", "text": "Vaxxed:\nFaster drop in\nviral load", "lineBreak": "\n", "lineHeight": 23, "font": "Liberation Sans", "fontSize": 21, "color": "#b147ea", "align": "center", "baseline": "alphabetic"},
      "encoding": {"x": {"datum": 30.62, "axis": null}, "y": {"datum": 45.91, "axis": null}}
    },
    {
      "data": {"values": [{}]},
      "mark": {"type": "text", "text": "Figure 1:", "font": "Lato", "fontSize": 19.7, "fontWeight": "bold", "color": "#1a1a1a", "align": "left", "baseline": "alphabetic"},
      "encoding": {"x": {"datum": -2.274, "axis": null}, "y": {"datum": 74.09, "axis": null}}
    },
    {
      "data": {"values": [{}]},
      "mark": {"type": "text", "text": "Scatterplot of Ct values and marginal effect of day of illness of COVID-19 B1.617.2 infected", "font": "Lato", "fontSize": 19.3, "color": "#1a1a1a", "align": "left", "baseline": "alphabetic"},
      "encoding": {"x": {"datum": 0.776, "axis": null}, "y": {"datum": 74.09, "axis": null}}
    },
    {
      "data": {"values": [{}]},
      "mark": {"type": "text", "text": "patients with 95% confidence intervals from generalized additive mixed model with interaction term", "font": "Lato", "fontSize": 19.7, "color": "#1a1a1a", "align": "left", "baseline": "alphabetic"},
      "encoding": {"x": {"datum": -2.274, "axis": null}, "y": {"datum": 81.26, "axis": null}}
    },
    {
      "data": {"values": [{}]},
      "mark": {"type": "text", "text": "between vaccination status and day of illness", "font": "Lato", "fontSize": 19.9, "color": "#1a1a1a", "align": "left", "baseline": "alphabetic"},
      "encoding": {"x": {"datum": -2.274, "axis": null}, "y": {"datum": 88.72, "axis": null}}
    }
  ]
}
